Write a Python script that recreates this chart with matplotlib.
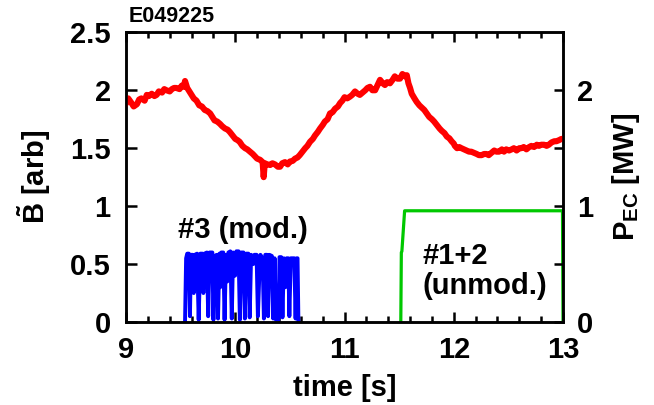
import matplotlib

matplotlib.use("Agg")
import matplotlib.pyplot as plt

# --- data ------------------------------------------------------------------
shot = "E049225"

# fluctuation amplitude (red), arb
b_time = [
    9.00, 9.02, 9.05, 9.07, 9.10, 9.12, 9.14, 9.17, 9.19, 9.21, 9.235, 9.26,
    9.28, 9.30, 9.33, 9.35, 9.37, 9.40, 9.42, 9.44, 9.46, 9.49, 9.51, 9.53,
    9.54, 9.56, 9.58, 9.60, 9.62, 9.645, 9.67, 9.695, 9.72, 9.745, 9.77, 9.79,
    9.81, 9.835, 9.86, 9.88, 9.906, 9.93, 9.95, 9.975, 10.00, 10.02, 10.04,
    10.065, 10.09, 10.11, 10.135, 10.16, 10.18, 10.20, 10.227, 10.25, 10.26,
    10.27, 10.295, 10.32, 10.34, 10.364, 10.39, 10.41, 10.43, 10.455, 10.48,
    10.50, 10.525, 10.547, 10.57, 10.59, 10.615, 10.64, 10.66, 10.684, 10.71,
    10.73, 10.755, 10.776, 10.80, 10.82, 10.845, 10.867, 10.89, 10.913, 10.94,
    10.96, 10.98, 11.00, 11.025, 11.05, 11.07, 11.096, 11.12, 11.14, 11.165,
    11.19, 11.21, 11.233, 11.255, 11.28, 11.30, 11.325, 11.35, 11.37, 11.39,
    11.416, 11.44, 11.46, 11.485, 11.508, 11.53, 11.554, 11.57, 11.585, 11.60,
    11.615, 11.64, 11.66, 11.685, 11.707, 11.73, 11.753, 11.775, 11.80, 11.82,
    11.845, 11.87, 11.89, 11.915, 11.937, 11.96, 11.98, 12.00, 12.01, 12.03,
    12.05, 12.07, 12.094, 12.12, 12.14, 12.16, 12.185, 12.21, 12.23, 12.255,
    12.277, 12.30, 12.32, 12.345, 12.37, 12.39, 12.414, 12.44, 12.46, 12.48,
    12.506, 12.53, 12.55, 12.575, 12.60, 12.62, 12.64, 12.665, 12.69, 12.71,
    12.735, 12.76, 12.78, 12.80, 12.827, 12.85, 12.87, 12.895, 12.92, 12.94,
    12.965, 12.985, 13.00,
]
b_amp = [
    1.89, 1.93, 1.89, 1.86, 1.88, 1.92, 1.93, 1.91, 1.96, 1.95, 1.97, 1.95,
    1.96, 1.99, 1.98, 2.01, 2.00, 1.99, 2.01, 2.02, 2.02, 2.01, 2.04, 2.03,
    2.08, 2.02, 1.99, 1.96, 1.93, 1.91, 1.87, 1.86, 1.83, 1.82, 1.80, 1.77,
    1.74, 1.73, 1.71, 1.69, 1.67, 1.66, 1.64, 1.61, 1.58, 1.57, 1.555,
    1.52, 1.50, 1.49, 1.47, 1.45, 1.43, 1.41, 1.40, 1.38, 1.25, 1.37, 1.36,
    1.355, 1.37, 1.36, 1.34, 1.34, 1.37, 1.38, 1.36, 1.385, 1.39, 1.41, 1.42,
    1.44, 1.47, 1.50, 1.52, 1.555, 1.58, 1.61, 1.64, 1.67, 1.70, 1.73, 1.75,
    1.80, 1.81, 1.84, 1.86, 1.89, 1.91, 1.94, 1.93, 1.945, 1.96, 1.99,
    1.97, 1.96, 1.98, 2.00, 2.02, 2.03, 2.00, 2.00, 2.04, 2.09, 2.06, 2.045,
    2.07, 2.06, 2.09, 2.12, 2.10, 2.10, 2.14, 2.12, 2.13, 2.06, 2.02, 1.97,
    1.93, 1.90, 1.87, 1.85, 1.83, 1.80, 1.77, 1.75, 1.73, 1.70, 1.67, 1.65,
    1.63, 1.60, 1.585, 1.56, 1.54, 1.52, 1.50, 1.51, 1.50, 1.49, 1.48,
    1.47, 1.47, 1.46, 1.45, 1.44, 1.44, 1.45, 1.45, 1.44, 1.46, 1.48, 1.47,
    1.47, 1.49, 1.47, 1.49, 1.48, 1.49, 1.50, 1.48, 1.50, 1.50, 1.51, 1.49,
    1.51, 1.52, 1.51, 1.53, 1.52, 1.53, 1.53, 1.52, 1.53, 1.55, 1.56, 1.56,
    1.57, 1.58, 1.58,
]

# EC power, gyrotron #3 (modulated, blue), MW -- only the pulse window
ec3_time = [
    9.540, 9.550, 9.560, 9.575, 9.585, 9.595, 9.610, 9.620, 9.630,
    9.650, 9.665, 9.680, 9.700, 9.708, 9.718, 9.740, 9.752, 9.765, 9.790,
    9.800, 9.812, 9.830, 9.842, 9.855, 9.862, 9.872, 9.890, 9.902, 9.915,
    9.927, 9.937, 9.955, 9.968, 9.980, 9.998, 10.010, 10.030, 10.042, 10.055,
    10.075, 10.088, 10.100, 10.120, 10.132, 10.145, 10.165, 10.175, 10.195,
    10.207, 10.220, 10.230, 10.250, 10.262, 10.275, 10.290, 10.300, 10.312,
    10.335, 10.347, 10.360, 10.372, 10.395, 10.405, 10.420, 10.432, 10.445,
    10.458, 10.470, 10.485, 10.495, 10.508, 10.540, 10.552, 10.562, 10.570,
    10.578,
]
ec3_power = [
    0.0, 0.55, 0.59, 0.59, 0.05, 0.58, 0.58, 0.25, 0.58,
    0.59, 0.02, 0.59, 0.59, 0.25, 0.59, 0.60, 0.05, 0.60, 0.60,
    0.02, 0.57, 0.58, 0.03, 0.59, 0.30, 0.60, 0.60, 0.02, 0.58,
    0.35, 0.60, 0.61, 0.03, 0.60, 0.40, 0.61, 0.61, 0.02, 0.60,
    0.60, 0.03, 0.59, 0.59, 0.04, 0.58, 0.50, 0.58, 0.58,
    0.05, 0.40, 0.58, 0.55, 0.03, 0.58, 0.58, 0.05, 0.58,
    0.57, 0.03, 0.55, 0.02, 0.02, 0.56, 0.56, 0.04, 0.55,
    0.30, 0.55, 0.55, 0.05, 0.55, 0.55, 0.03, 0.55, 0.55,
    0.0,
]

# EC power, gyrotrons #1+2 (unmodulated, green), MW
ec12_time = [11.515, 11.520, 11.525, 11.550, 12.995, 13.00]
ec12_power = [0.0, 0.60, 0.61, 0.96, 0.96, 0.0]

x_ticks = [9, 10, 11, 12, 13]
left_ticks = [0, 0.5, 1, 1.5, 2, 2.5]
left_labels = ["0", "0.5", "1", "1.5", "2", "2.5"]
right_ticks = [0, 0.5, 1, 1.5, 2]
right_labels = ["0", "", "1", "", "2"]

# --- figure -----------------------------------------------------------------
plt.rcParams["font.family"] = ["Liberation Sans", "DejaVu Sans"]
plt.rcParams["font.weight"] = "bold"
plt.rcParams["mathtext.fontset"] = "custom"
plt.rcParams["mathtext.rm"] = "Liberation Sans:bold"
plt.rcParams["mathtext.bf"] = "Liberation Sans:bold"
plt.rcParams["mathtext.it"] = "Liberation Sans:bold"

fs = 21
fig = plt.figure(figsize=(6.54, 4.05), dpi=100)
ax = fig.add_axes([0.1927, 0.2049, 0.6682, 0.7153])

ax.plot(ec12_time, ec12_power, color="#00c800", lw=2.3, zorder=1.9)
ax.plot(ec3_time, ec3_power, color="#0000ff", lw=2.8, zorder=2)
ax.plot(b_time, b_amp, color="#ff0000", lw=4.4, zorder=4)

ax.set_xlim(9, 13)
ax.set_ylim(0, 2.5)
ax.set_xticks(x_ticks)
ax.set_xticks([t / 5 for t in range(45, 66)], minor=True)
ax.set_yticks(left_ticks)
ax.set_yticklabels(left_labels)
ax.tick_params(axis="both", which="major", direction="in", width=1.8,
               labelsize=fs, top=True)
ax.tick_params(axis="x", which="major", length=7, pad=10)
ax.tick_params(axis="x", which="minor", direction="in", length=4.5,
               width=1.8, top=True)
ax.tick_params(axis="y", which="major", length=8, pad=11)
for s in ax.spines.values():
    s.set_linewidth(1.8)
    s.set_zorder(3)

ax.set_xlabel("time [s]", fontsize=fs, fontweight="bold", labelpad=7)
ax.set_ylabel(r"$\mathbf{\tilde{B}}$ [arb]", fontsize=fs,
              fontweight="bold", labelpad=12)

ax2 = ax.twinx()
ax2.set_ylim(0, 2.5)
ax2.set_yticks(right_ticks)
ax2.set_yticklabels(right_labels)
ax2.tick_params(axis="y", direction="in", length=6.5, width=1.8,
                labelsize=fs, pad=10)
for s in ax2.spines.values():
    s.set_linewidth(1.8)
ax2.set_ylabel(r"P$_{\mathbf{EC}}$ [MW]", fontsize=fs, fontweight="bold",
               labelpad=12)

ax.text(9.476, 0.79, "#3 (mod.)", fontsize=fs, fontweight="bold",
        ha="left", va="center")
ax.text(11.71, 0.44, "#1+2\n(unmod.)", fontsize=fs, fontweight="bold",
        ha="left", va="center", linespacing=1.1)
fig.text(0.197, 0.985, shot, fontsize=15.5, fontweight="bold",
         ha="left", va="top")

fig.savefig("out.png", dpi=100)
